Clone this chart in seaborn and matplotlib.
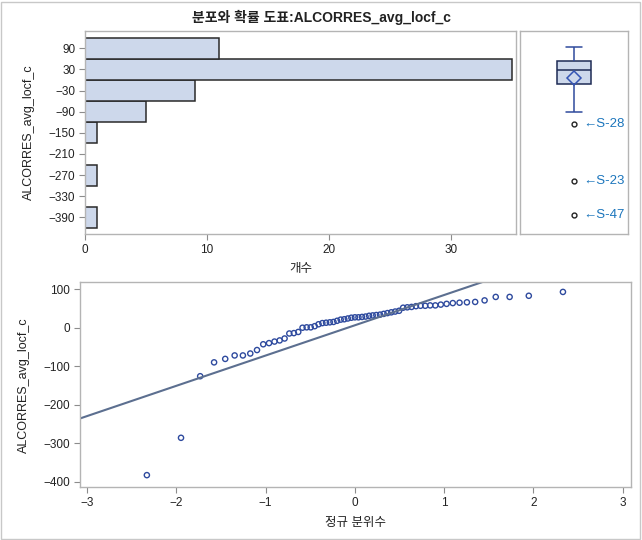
import numpy as np
import pandas as pd
import matplotlib
matplotlib.use("Agg")
import matplotlib.pyplot as plt
import seaborn as sns
from statistics import NormalDist
from matplotlib.patches import Rectangle

# ---- data ----
values = [-383, -286, -126, -90, -81, -72, -72, -67, -58, -43, -40, -36, -33, -28,
          -15, -14, -11,
          0, 1, 1, 4, 9, 12, 13, 14, 15, 18, 21, 22, 24, 26, 27, 27, 28, 29, 31, 32,
          33, 34, 36, 38, 40, 42, 44, 52, 53, 54, 56, 57, 57, 58, 58,
          60, 62, 64, 65, 66, 67, 71, 80, 80, 83, 93]
outlier_values = [-126, -286, -383]
outlier_ids = ["S-28", "S-23", "S-47"]
hist_ticks = [90, 30, -30, -90, -150, -210, -270, -330, -390]
count_ticks = [0, 10, 20, 30]
qq_xticks = [-3, -2, -1, 0, 1, 2, 3]
qq_yticks = [100, 0, -100, -200, -300, -400]
title = "분포와 확률 도표:ALCORRES_avg_locf_c"
var_label = "ALCORRES_avg_locf_c"

sns.set_style("white")
plt.rcParams["font.family"] = ["Liberation Sans", "Noto Sans CJK KR", "DejaVu Sans"]
plt.rcParams["axes.unicode_minus"] = True

W, H = 642, 540
fig = plt.figure(figsize=(W / 100, H / 100), dpi=100)

def frac(l, t, r, b):
    return [l / W, 1 - b / H, (r - l) / W, (b - t) / H]

spine_c = "#B4B4B4"
tick_c = "#222222"
fill_c = "#CDD8EB"

def style_axes(ax, ticks=True):
    for s in ax.spines.values():
        s.set_color(spine_c)
        s.set_linewidth(1)
    ax.tick_params(axis="both", direction="out", length=4, width=0.8,
                   color="#8C8C8C", labelsize=8.5, labelcolor=tick_c,
                   bottom=ticks, left=ticks, pad=3)

# ---- histogram ----
ax_h = fig.add_axes(frac(85, 31, 516, 234))
df = pd.DataFrame({"v": values})
sns.histplot(data=df, y="v", bins=np.arange(-420, 121, 60), ax=ax_h,
             color=fill_c, alpha=1, edgecolor="#2A2A2A", linewidth=1.1)
ax_h.set_ylim(-437, 139)
ax_h.set_xlim(0, 35.3)
ax_h.set_yticks(hist_ticks)
ax_h.set_yticklabels([str(t).replace("-", "\u2212") for t in hist_ticks])
ax_h.set_xticks(count_ticks)
ax_h.set_xlabel("개수", fontsize=9, color="#222222", labelpad=5)
ax_h.set_ylabel(var_label, fontsize=9, color="#222222", labelpad=10)
style_axes(ax_h)

# ---- boxplot ----
ax_b = fig.add_axes(frac(520, 31, 628, 234))
sns.boxplot(y=values, ax=ax_b, width=0.62, whis=1.5, color=fill_c,
            showmeans=True, showfliers=True,
            boxprops=dict(facecolor=fill_c, edgecolor="#1E2B55", linewidth=1.1),
            medianprops=dict(color="#1E2B55", linewidth=1.1),
            whiskerprops=dict(color="#2F4A9C", linewidth=1.1),
            capprops=dict(color="#2F4A9C", linewidth=1.1),
            meanprops=dict(marker="D", markerfacecolor="none", markeredgecolor="#3454B4",
                           markersize=7, markeredgewidth=1.1),
            flierprops=dict(marker="o", markerfacecolor="none", markeredgecolor="#222222",
                            markersize=3.5, markeredgewidth=1))
for ln in ax_b.lines:
    xd = np.asarray(ln.get_xdata(), dtype=float)
    if len(xd) == 2 and 0.05 < np.ptp(xd) < 0.5:
        c = xd.mean()
        ln.set_xdata([c - 0.15, c + 0.15])
ax_b.set_xlim(-1, 1)
ax_b.set_ylim(-437, 139)
ax_b.set_xticks([])
ax_b.set_yticks([])
ax_b.set_ylabel("")
for v, lab in zip(outlier_values, outlier_ids):
    ax_b.annotate("\u2190" + lab, xy=(0.17, v), fontsize=9.5, color="#1B75BC",
                  va="center", ha="left")
style_axes(ax_b, ticks=False)

# ---- QQ plot ----
ax_q = fig.add_axes(frac(80, 282.3, 630.7, 487.3))
sv = np.sort(np.array(values, dtype=float))
n = len(sv)
nd = NormalDist()
q = np.array([nd.inv_cdf((i - 0.375) / (n + 0.25)) for i in range(1, n + 1)])
mu, sd = sv.mean(), sv.std(ddof=1)
lx = np.array([-3.2, 3.2])
sns.lineplot(x=lx, y=mu + sd * lx, ax=ax_q, color="#5C6F90", linewidth=1.5)
sns.scatterplot(x=q, y=sv, ax=ax_q, marker="o", s=14, facecolors="none",
                edgecolor="#2E4A9E", linewidth=1)
ax_q.set_xlim(-3.08, 3.09)
ax_q.set_ylim(-414.6, 118)
ax_q.set_xticks(qq_xticks)
ax_q.set_xticklabels([str(t).replace("-", "\u2212") for t in qq_xticks])
ax_q.set_yticks(qq_yticks)
ax_q.set_yticklabels([str(t).replace("-", "\u2212") for t in qq_yticks])
ax_q.set_xlabel("정규 분위수", fontsize=9, color="#222222", labelpad=6)
ax_q.set_ylabel(var_label, fontsize=9, color="#222222", labelpad=10)
style_axes(ax_q)

fig.text(0.5, 1 - 17 / H, title, ha="center", va="center", fontsize=10,
         fontweight="bold", color="#222222")
fig.patches.append(Rectangle((1 / W, 1 / H), (W - 3) / W, (H - 3) / H,
                             transform=fig.transFigure, fill=False,
                             edgecolor="#C8C8C8", linewidth=1))

fig.savefig("out.png", dpi=100)
